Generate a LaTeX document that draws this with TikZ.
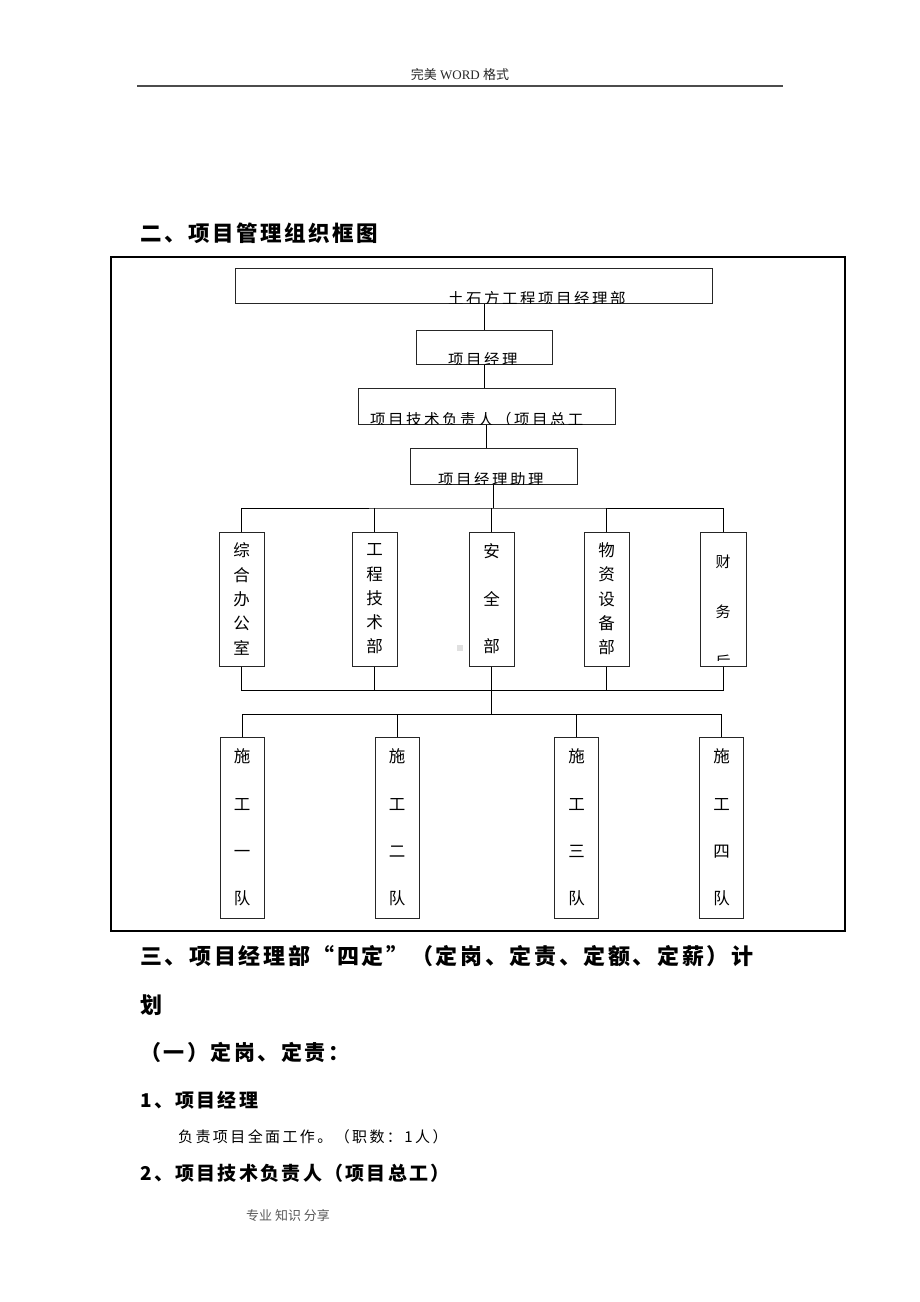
\documentclass[tikz,border=0pt]{standalone}
\usepackage{fontspec}
\setmainfont{Liberation Serif}
\newfontfamily\cjk{Noto Sans CJK SC}
\newfontfamily\cjkw[LetterSpace=16]{Noto Sans CJK SC}
\newfontfamily\cjkh[LetterSpace=12]{Noto Sans CJK SC}
\tikzset{
	orgbox/.style={draw=black!85, line width=1pt, inner sep=0pt},
	boxtext/.style={font=\cjkw\fontsize{15.5}{15.5}\selectfont, inner sep=0pt},
	colfive/.style={font=\cjk\fontsize{16.5}{24.3}\selectfont, align=center},
	colwide/.style={font=\cjk\fontsize{16.5}{47.3}\selectfont, align=center},
	heading/.style={font=\cjkh\bfseries\fontsize{21.5}{21.5}\selectfont, inner sep=0pt, anchor=west},
	subhead/.style={font=\cjkh\bfseries\fontsize{19}{19}\selectfont, inner sep=0pt, anchor=west},
	bodytext/.style={font=\cjkw\fontsize{15}{15}\selectfont, inner sep=0pt, anchor=west},
}
\begin{document}
\begin{tikzpicture}[x=1pt,y=-1pt]
		\useasboundingbox (0,0) rectangle (920,1302);
		\node[font=\fontsize{13}{13}\selectfont, text=black!85] (hdr) at (460,75) {{\cjk 完美} WORD {\cjk 格式}};
		\draw[black!70, line width=1.5pt] (137,86) -- (783,86);
		\node[heading] (t2) at (140,233) {二、项目管理组织框图};
		\draw[black, line width=2.5pt] (111,257) rectangle (845,931);
		\node[orgbox, minimum width=477, minimum height=35] (jlb) at (473.5,285.5) {};
		\node[orgbox, minimum width=136, minimum height=34] (xmjl) at (484,347) {};
		\node[orgbox, minimum width=257, minimum height=36] (zg) at (486.5,406) {};
		\node[orgbox, minimum width=167, minimum height=36] (zl) at (493.5,466) {};
		\begin{scope}
			\clip (jlb.south west) rectangle (jlb.north east);
			\node[boxtext, anchor=north west] (jlbt) at (448,291) {土石方工程项目经理部};
		\end{scope}
		\begin{scope}
			\clip (xmjl.south west) rectangle (xmjl.north east);
			\node[boxtext, anchor=north west] (xmjlt) at (448,352) {项目经理};
		\end{scope}
		\begin{scope}
			\clip (zg.south west) rectangle (zg.north east);
			\node[boxtext, anchor=north west] (zgt) at (370,412) {项目技术负责人（项目总工};
		\end{scope}
		\begin{scope}
			\clip (zl.south west) rectangle (zl.north east);
			\node[boxtext, anchor=north west] (zlt) at (438,472) {项目经理助理};
		\end{scope}
		\node[orgbox, colfive, minimum width=45, minimum height=134] (zhb) at (241.5,599) {综\\合\\办\\公\\室};
		\node[orgbox, colfive, minimum width=45, minimum height=134] (gcb) at (374.5,599) {工\\程\\技\\术\\部};
		\node[orgbox, colwide, minimum width=45, minimum height=134, font=\cjk\fontsize{16.5}{47.5}\selectfont] (aqb) at (491.5,599) {安\\全\\部};
		\node[orgbox, colfive, minimum width=45, minimum height=134] (wzb) at (606.5,599) {物\\资\\设\\备\\部};
		\node[orgbox, minimum width=46, minimum height=134] (cwb) at (723,599) {};
		\begin{scope}
			\clip (cwb.north west) rectangle ([yshift=6pt]cwb.south east);
			\node[colwide, inner sep=0pt, anchor=north, font=\cjk\fontsize{15}{50}\selectfont] (cwbt) at (723,555) {财\\务\\后};
		\end{scope}
		\node[orgbox, colwide, minimum width=44, minimum height=181] (sg1) at (242,827.5) {施\\工\\一\\队};
		\node[orgbox, colwide, minimum width=44, minimum height=181] (sg2) at (397,827.5) {施\\工\\二\\队};
		\node[orgbox, colwide, minimum width=44, minimum height=181] (sg3) at (576.5,827.5) {施\\工\\三\\队};
		\node[orgbox, colwide, minimum width=44, minimum height=181] (sg4) at (721.5,827.5) {施\\工\\四\\队};
		\coordinate (bus1) at (493.5,508);
		\coordinate (bus2) at (491.5,690);
		\coordinate (bus3) at (491.5,714);
		\draw[line width=0.9pt] (jlb.south -| xmjl.north) -- (xmjl.north);
		\draw[line width=0.9pt] (xmjl.south) -- (xmjl.south |- zg.north);
		\draw[line width=0.9pt] (zg.south) -- (zg.south |- zl.north);
		\draw[line width=0.9pt] (zl.south) -- (bus1);
		\draw[line width=0.9pt] (zhb.north) |- (bus1) -| (cwb.north);
		\foreach \d in {gcb,aqb,wzb}
			\draw[line width=0.9pt] (\d.north) -- (\d.north |- bus1);
		\draw[line width=0.9pt] (zhb.south) |- (bus2) -| (cwb.south);
		\foreach \d in {gcb,aqb,wzb}
			\draw[line width=0.9pt] (\d.south) -- (\d.south |- bus2);
		\draw[line width=0.9pt] (bus2) -- (bus3);
		\draw[line width=0.9pt] (sg1.north) |- (bus3) -| (sg4.north);
		\foreach \d in {sg2,sg3}
			\draw[line width=0.9pt] (\d.north) -- (\d.north |- bus3);
		\fill[black!12] (457,645) rectangle (463,651);
		\node[heading, font=\cjkh\bfseries\fontsize{22}{22}\selectfont] (t3) at (140,956) {三、项目经理部“四定”（定岗、定责、定额、定薪）计};
		\node[heading, font=\cjkh\bfseries\fontsize{22}{22}\selectfont] (t3b) at (140,1005) {划};
		\node[heading, font=\cjkh\bfseries\fontsize{21}{21}\selectfont] (t31) at (140,1052) {（一）定岗、定责：};
		\node[subhead] (t311) at (140,1100) {1、项目经理};
		\node[bodytext] (t311b) at (178,1137) {负责项目全面工作。（职数：1人）};
		\node[subhead] (t312) at (140,1173) {2、项目技术负责人（项目总工）};
		\node[font=\cjk\fontsize{13}{13}\selectfont, text=black!65] (ftr) at (288,1216) {专业 知识 分享};
		\end{tikzpicture}
\end{document}
